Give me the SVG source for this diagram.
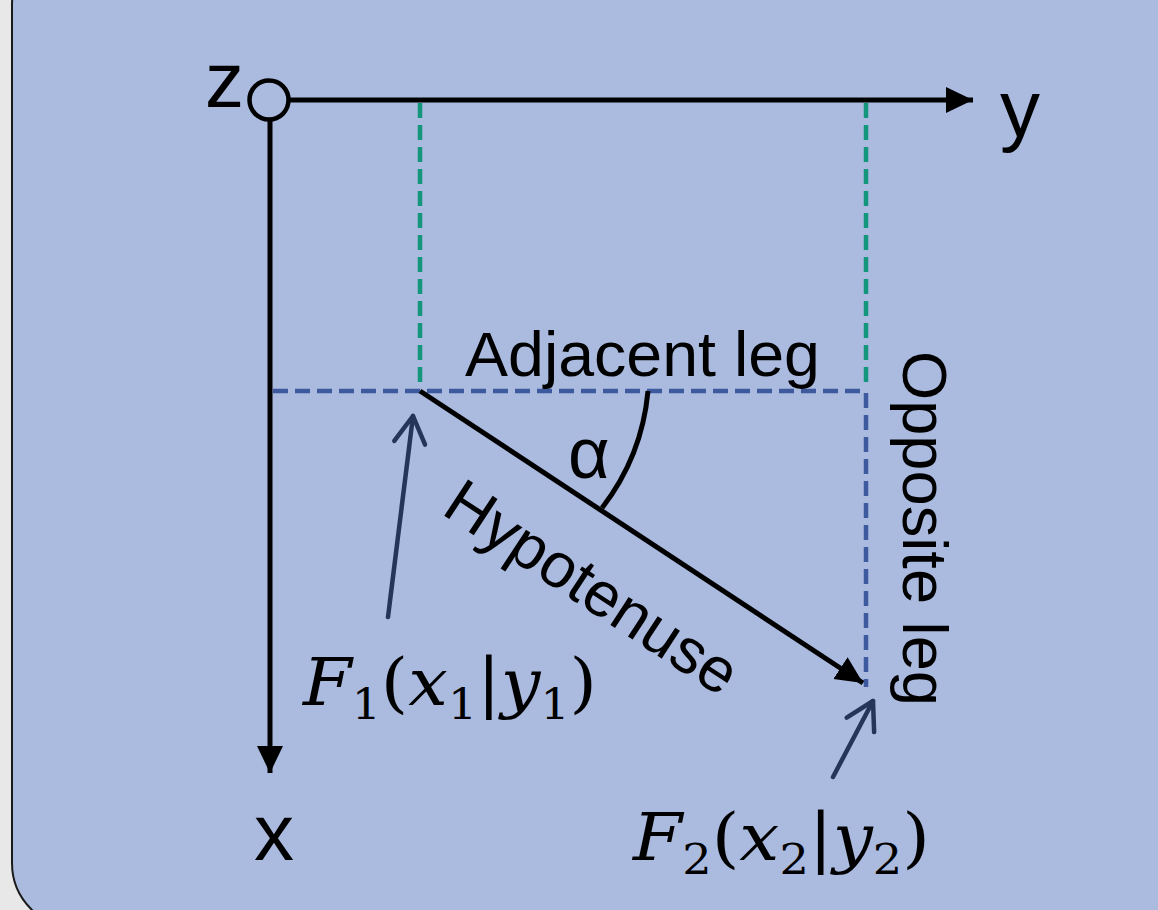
<svg xmlns="http://www.w3.org/2000/svg" width="1158" height="910" viewBox="0 0 1158 910">
<style>
.lbl{font-family:"Liberation Sans",Arial,sans-serif;fill:#000}
.math{font-family:"DejaVu Serif","Liberation Serif",serif;fill:#000}
.ax{stroke:#000;stroke-width:5;fill:none}
.green{stroke:#13967B;stroke-width:4.5;stroke-dasharray:15 7;fill:none}
.blue{stroke:#3E5A9F;stroke-width:4.5;stroke-dasharray:15 7;fill:none}
.ptr{stroke:#25355A;stroke-width:4.5;fill:none;stroke-linecap:round}
</style>
<defs>
<marker id="ah" markerUnits="userSpaceOnUse" markerWidth="30" markerHeight="30" refX="27" refY="13" orient="auto">
<path d="M0,0 L27,13 L0,26 Z" fill="#000"/>
</marker>
<marker id="oh" markerUnits="userSpaceOnUse" markerWidth="36" markerHeight="36" refX="30" refY="18" orient="auto">
<path d="M3,2.5 L30,18 L3,33.5" fill="none" stroke="#25355A" stroke-width="4.5" stroke-linecap="round" stroke-linejoin="round"/>
</marker>
</defs>
<rect x="0" y="0" width="1158" height="910" fill="#E8E8E8"/>
<rect id="panel" x="12" y="-60" width="1200" height="988" rx="65" fill="#ABBADF" stroke="#1a1a1a" stroke-width="2"/>

<g id="connectors">
<line class="green" x1="420" y1="103" x2="420" y2="389"/>
<line class="green" x1="866" y1="103" x2="866" y2="389"/>
<line class="blue" x1="273" y1="391" x2="866" y2="391"/>
<line class="blue" x1="866" y1="393" x2="866" y2="687"/>
<line class="ax" x1="289" y1="100" x2="973" y2="100" marker-end="url(#ah)"/>
<line class="ax" x1="270" y1="120" x2="270" y2="773" marker-end="url(#ah)"/>
<line class="ax" x1="420" y1="391" x2="863" y2="683" marker-end="url(#ah)"/>
<path class="ax" d="M648,391 A225,225 0 0 1 602,508"/>
<line class="ptr" x1="388" y1="617" x2="413" y2="416" marker-end="url(#oh)"/>
<line class="ptr" x1="833" y1="777" x2="873" y2="701" marker-end="url(#oh)"/>
</g>

<g id="origin">
<circle cx="269" cy="100" r="19.5" fill="#ABBADF" stroke="#000" stroke-width="4.5"/>
<text class="lbl" x="205" y="107" font-size="78">z</text>
</g>
<g id="y-axis-label"><text class="lbl" x="1000" y="136" font-size="80">y</text></g>
<g id="x-axis-label"><text class="lbl" x="254" y="860" font-size="80">x</text></g>
<g id="adjacent"><text class="lbl" x="465" y="376" font-size="63" textLength="355" lengthAdjust="spacingAndGlyphs">Adjacent leg</text></g>
<g id="opposite"><text class="lbl" transform="translate(903,351) rotate(90)" font-size="63" textLength="355" lengthAdjust="spacingAndGlyphs">Opposite leg</text></g>
<g id="hypotenuse"><text class="lbl" transform="translate(440,513) rotate(33.3)" font-size="63">Hypotenuse</text></g>
<g id="alpha"><text class="lbl" x="568" y="478" font-size="72">α</text></g>

<g id="F1">
<text class="math" x="303" y="705" font-size="66" textLength="294" lengthAdjust="spacingAndGlyphs"><tspan font-style="italic">F</tspan><tspan font-size="43" dy="14">1</tspan><tspan dy="-14">(</tspan><tspan font-style="italic">x</tspan><tspan font-size="43" dy="14">1</tspan><tspan dy="-14">|</tspan><tspan font-style="italic">y</tspan><tspan font-size="43" dy="14">1</tspan><tspan dy="-14">)</tspan></text>
</g>
<g id="F2">
<text class="math" x="633" y="860" font-size="66" textLength="297" lengthAdjust="spacingAndGlyphs"><tspan font-style="italic">F</tspan><tspan font-size="43" dy="14">2</tspan><tspan dy="-14">(</tspan><tspan font-style="italic">x</tspan><tspan font-size="43" dy="14">2</tspan><tspan dy="-14">|</tspan><tspan font-style="italic">y</tspan><tspan font-size="43" dy="14">2</tspan><tspan dy="-14">)</tspan></text>
</g>
</svg>
